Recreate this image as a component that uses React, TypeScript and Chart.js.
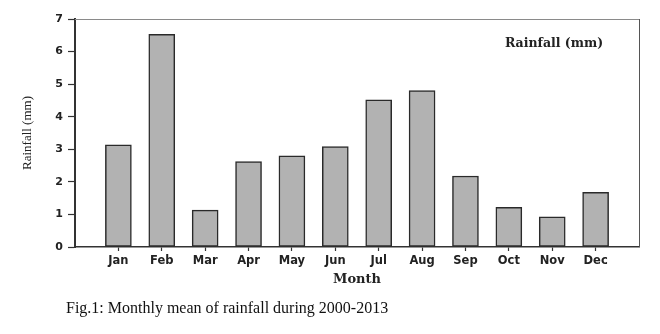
import React, { useEffect, useRef } from "react";
import { Chart, registerables } from "chart.js";

Chart.register(...registerables);

const months = ["Jan", "Feb", "Mar", "Apr", "May", "Jun", "Jul", "Aug", "Sep", "Oct", "Nov", "Dec"];
const rainfall = [3.14, 6.53, 1.13, 2.62, 2.8, 3.08, 4.52, 4.8, 2.18, 1.22, 0.93, 1.68];
const yTicks = [0, 1, 2, 3, 4, 5, 6, 7];
const seriesLabel = "Rainfall (mm)";
const xTitle = "Month";
const yTitle = "Rainfall (mm)";
const caption = "Fig.1: Monthly mean of rainfall during 2000-2013";

const framePlugin = {
  id: "frameAndLabel",
  afterDraw(chart: any) {
    const { ctx, chartArea } = chart;
    ctx.save();
    ctx.strokeStyle = "#8a8a8a";
    ctx.lineWidth = 1;
    ctx.beginPath();
    ctx.moveTo(chartArea.left, chartArea.top + 0.5);
    ctx.lineTo(chartArea.right, chartArea.top + 0.5);
    ctx.stroke();
    ctx.strokeStyle = "#555";
    ctx.beginPath();
    ctx.moveTo(chartArea.right + 0.5, chartArea.top);
    ctx.lineTo(chartArea.right + 0.5, chartArea.bottom);
    ctx.stroke();
    ctx.fillStyle = "#222";
    ctx.font = "bold 12.5px 'DejaVu Serif'";
    ctx.textAlign = "center";
    ctx.textBaseline = "middle";
    ctx.fillText(seriesLabel, chartArea.right - 85, chartArea.top + 25);
    ctx.restore();
  },
};

export default function App() {
  const ref = useRef<HTMLCanvasElement | null>(null);
  useEffect(() => {
    if (!ref.current) return;
    const labels = ["", ...months, ""];
    const data = [null, ...rainfall, null];
    const last = labels.length - 1;
    const chart = new Chart(ref.current, {
      type: "bar",
      data: {
        labels,
        datasets: [
          {
            label: seriesLabel,
            data,
            backgroundColor: "#b2b2b2",
            borderColor: "#2a2a2a",
            borderWidth: 1.5,
            borderSkipped: false,
            barThickness: 26,
          },
        ],
      },
      options: {
        animation: false,
        responsive: false,
        maintainAspectRatio: false,
        layout: { padding: { left: 0, top: 19, right: 21, bottom: 0 } },
        plugins: { legend: { display: false }, tooltip: { enabled: false }, title: { display: false } },
        scales: {
          x: {
            type: "category",
            offset: false,
            grid: {
              offset: false,
              drawOnChartArea: false,
              drawTicks: true,
              tickLength: 4,
              tickWidth: 1.2,
              color: "#333",
              tickColor: (c: any) => (c.index === 0 || c.index === last ? "rgba(0,0,0,0)" : "#333"),
            },
            border: { color: "#333", width: 1.5 },
            ticks: {
              autoSkip: false,
              maxRotation: 0,
              padding: 3,
              color: "#222",
              font: { family: "'DejaVu Sans'", size: 11.5, weight: "bold" },
            },
            title: {
              display: true,
              text: xTitle,
              color: "#222",
              font: { family: "'DejaVu Serif'", size: 13, weight: "bold" },
              padding: { top: 0, bottom: 13 },
            },
            afterFit: (s: any) => {
              s.height = 53;
            },
          },
          y: {
            min: 0,
            max: 7,
            afterBuildTicks: (s: any) => {
              s.ticks = yTicks.map((v) => ({ value: v }));
            },
            grid: {
              drawOnChartArea: false,
              drawTicks: true,
              tickLength: 7,
              tickWidth: 1.2,
              color: "#333",
              tickColor: "#333",
            },
            border: { color: "#333", width: 2 },
            ticks: {
              padding: 5,
              color: "#222",
              font: { family: "'DejaVu Sans'", size: 11, weight: "bold" },
            },
            title: {
              display: true,
              text: yTitle,
              color: "#222",
              font: { family: "'Liberation Serif'", size: 13, weight: "normal" },
              padding: { top: 20, bottom: 0 },
            },
            afterFit: (s: any) => {
              s.width = 75;
            },
          },
        },
      },
      plugins: [framePlugin],
    } as any);
    return () => chart.destroy();
  }, []);

  return (
    <div style={{ position: "fixed", left: 0, top: 0, width: 660, height: 334, background: "#fff" }}>
      <canvas ref={ref} width={660} height={300} style={{ display: "block", width: 660, height: 300 }} />
      <div
        style={{
          position: "absolute",
          left: 66,
          top: 299,
          fontFamily: "'Liberation Serif', serif",
          fontSize: 16,
          lineHeight: "18px",
          color: "#111",
          whiteSpace: "nowrap",
        }}
      >
        {caption}
      </div>
    </div>
  );
}
